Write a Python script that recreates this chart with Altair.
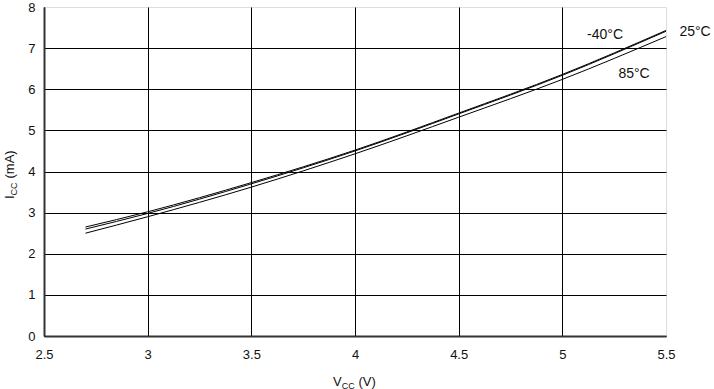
import altair as alt
import pandas as pd

vcc = [2.7, 3.0, 3.5, 4.0, 4.5, 5.0, 5.5]
icc_m40 = [2.65, 3.02, 3.73, 4.52, 5.42, 6.36, 7.43]
icc_25 = [2.60, 2.98, 3.70, 4.50, 5.40, 6.34, 7.41]
icc_85 = [2.50, 2.90, 3.62, 4.43, 5.32, 6.24, 7.28]
series_names = ["-40°C", "25°C", "85°C"]

label_text = ["-40°C", "25°C", "85°C"]
label_x = [5.206, 5.64, 5.346]
label_y = [7.32, 7.39, 6.37]

x_ticks = [2.5, 3, 3.5, 4, 4.5, 5, 5.5]
y_ticks = [0, 1, 2, 3, 4, 5, 6, 7, 8]

rows = []
for name, vals in zip(series_names, [icc_m40, icc_25, icc_85]):
    for v, i in zip(vcc, vals):
        rows.append({"vcc": v, "icc": i, "series": name})
df = pd.DataFrame(rows)
labels = pd.DataFrame({"t": label_text, "x": label_x, "y": label_y})

FONT = "Liberation Sans"

xscale = alt.Scale(domain=[2.5, 5.5], nice=False, zero=False)
yscale = alt.Scale(domain=[0, 8], nice=False)

grid_x = {"condition": {"test": "datum.value >= 5.5", "value": "transparent"}, "value": "#000"}
grid_y = {"condition": {"test": "datum.value >= 8", "value": "transparent"}, "value": "#000"}

lines = alt.Chart(df).mark_line(color="black", strokeWidth=1, interpolate="monotone").encode(
    x=alt.X("vcc:Q", scale=xscale,
            axis=alt.Axis(values=x_ticks, title=None, grid=True, gridColor=grid_x, gridWidth=1,
                          ticks=False, labelPadding=12, domainColor="#333", domainWidth=2,
                          labelFont=FONT, labelFontSize=13, labelColor="#111", labelFlush=False,
                          format="~g")),
    y=alt.Y("icc:Q", scale=yscale,
            axis=alt.Axis(values=y_ticks, title=None, grid=True, gridColor=grid_y, gridWidth=1,
                          ticks=False, labelPadding=9, domainColor="#333", domainWidth=2,
                          labelFont=FONT, labelFontSize=13, labelColor="#111", labelFlush=False)),
    detail="series:N",
)

ann = alt.Chart(labels).mark_text(font=FONT, fontSize=14, color="#111").encode(
    x=alt.X("x:Q", scale=xscale), y=alt.Y("y:Q", scale=yscale), text="t:N"
)

one = pd.DataFrame({"a": [0]})

def txt(s, x, y, size, angle=0):
    return alt.Chart(one).mark_text(text=s, font=FONT, fontSize=size, color="#111",
                                    align="left", baseline="alphabetic", angle=angle).encode(
        x=alt.value(x), y=alt.value(y))

# x title: V_CC (V)
xt = txt("V", 289, 379, 13) + txt("CC", 297.7, 381.5, 9) + txt("(V)", 314.5, 379, 13)
# y title: I_CC (mA), rotated
yt = (txt("I", -30, 192, 13, 270) + txt("CC", -27.5, 188.5, 9, 270)
      + txt("(mA)", -30, 171.5, 13, 270))

chart = alt.layer(lines, ann, xt, yt).properties(
    width=622, height=329,
    padding={"left": 44, "top": 7, "right": 48, "bottom": 53},
    autosize=alt.AutoSizeParams(type="none"),
).configure_view(stroke="#888", strokeWidth=2).configure(background="white")

chart.save("out.html", embed_options={"renderer": "svg", "actions": False})
